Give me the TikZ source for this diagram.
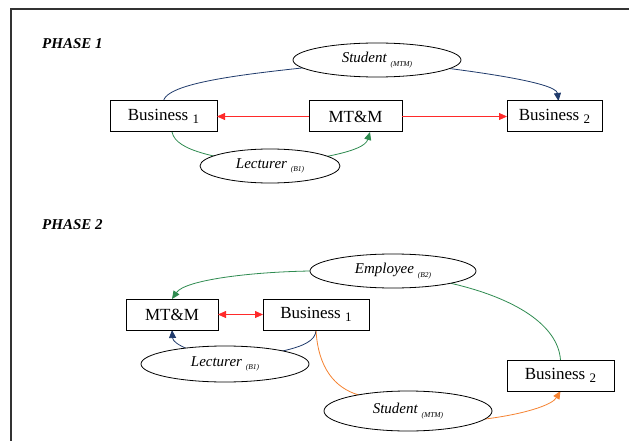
\documentclass[tikz,border=0pt]{standalone}
\usepackage{fontspec}
\setmainfont{Liberation Serif}
\usetikzlibrary{arrows.meta,shapes.geometric,backgrounds}

\definecolor{linkblue}{HTML}{1F3A6B}
\definecolor{linkgreen}{HTML}{2E8B50}
\definecolor{linkred}{HTML}{FF2A2A}
\definecolor{linkorange}{HTML}{F58231}
\definecolor{framegray}{HTML}{333333}

% lowered index digit in the box labels
\newcommand\idx[1]{\raisebox{-2.5pt}{\fontsize{13}{13}\selectfont #1}}
% small lowered tag after a role name
\newcommand\rolenote[1]{\raisebox{-3.5pt}{\fontsize{7.5}{8}\selectfont\itshape #1}}

\begin{document}
\begin{tikzpicture}[x=1pt,y=-1pt,
  box/.style={draw=black, line width=1pt, fill=white, minimum height=31pt,
    inner sep=0pt, outer sep=0pt, font=\fontsize{17}{19}\selectfont},
  oval/.style={ellipse, draw=black, line width=0.8pt, fill=white,
    inner sep=0pt, outer sep=0pt, font=\fontsize{15}{17}\selectfont\itshape},
  phase/.style={anchor=base west, inner sep=0pt,
    font=\fontsize{15}{17}\selectfont\bfseries\itshape},
  link/.style={line width=0.8pt},
  tip/.style={-{Triangle[length=8pt,width=7pt]}},
  tips/.style={{Triangle[length=8pt,width=7pt]}-{Triangle[length=8pt,width=7pt]}},
]
\useasboundingbox (0,0) rectangle (629,441);

% outer frame (top and left edges)
\draw[framegray, line width=1.4pt] (629,9) -- (11,9) -- (11,441);

% ---------------- Phase 1 ----------------
\node[phase] (ph1) at (42,49) {PHASE 1};

\node[box, minimum width=107pt] (p1b1)  at (163.5,116.5) {Business \idx{1}};
\node[box, minimum width=93pt]  (p1mtm) at (355.5,116.5) {MT\&M\hspace{8pt}};
\node[box, minimum width=95pt]  (p1b2)  at (554.5,116.5) {Business \idx{2}};

\node[oval, minimum width=168pt, minimum height=34pt] (p1stu) at (377,60)
  {Student \rolenote{(MTM)}};
\node[oval, minimum width=140pt, minimum height=34pt] (p1lec) at (270,166)
  {Lecturer \rolenote{(B1)}};

\draw[link, linkred, tip] (p1mtm.west) -- (p1b1.east);
\draw[link, linkred, tip] (p1mtm.east) -- (p1b2.west);

\begin{pgfonlayer}{background}
  \draw[link, linkblue, tip] (p1b1.north)
    .. controls (168,78) and (290,70) .. (p1stu.center)
    .. controls (470,70) and (556,82) .. ([xshift=4pt]p1b2.north);
  \draw[link, linkgreen, tip] ([xshift=8.5pt]p1b1.south)
    .. controls (176,152) and (220,158) .. (p1lec.center)
    .. controls (320,158) and (364,152) .. ([xshift=14.5pt]p1mtm.south);
\end{pgfonlayer}

% ---------------- Phase 2 ----------------
\node[phase] (ph2) at (42,229) {PHASE 2};

\node[box, minimum width=92pt]  (p2mtm) at (172,314.5) {MT\&M\hspace{8pt}};
\node[box, minimum width=106pt] (p2b1)  at (316,314.5) {Business \idx{1}};
\node[box, minimum width=107pt] (p2b2)  at (560.5,375.5) {Business \idx{2}};

\node[oval, minimum width=166pt, minimum height=34pt] (p2emp) at (393,271)
  {Employee \rolenote{(B2)}};
\node[oval, minimum width=168pt, minimum height=36pt] (p2lec) at (225,364)
  {Lecturer \rolenote{(B1)}};
\node[oval, minimum width=168pt, minimum height=40pt] (p2stu) at (408,411)
  {Student \rolenote{(MTM)}};

\draw[link, linkred, tips] (p2mtm.east) -- (p2b1.west);

\begin{pgfonlayer}{background}
  \draw[link, linkgreen, tip] (p2emp.west)
    .. controls (250,272) and (185,280) .. (p2mtm.north);
  \draw[link, linkgreen] (p2emp.-12)
    .. controls (515,298) and (558,325) .. (p2b2.north);
  \draw[link, linkblue, tip] (p2b1.south)
    .. controls (316,352) and (260,352) .. (p2lec.center)
    .. controls (195,352) and (173,345) .. (p2mtm.south);
  \draw[link, linkorange] (p2b1.south)
    .. controls (318,368) and (335,388) .. (p2stu.162);
  \draw[link, linkorange, tip] (p2stu.-6)
    .. controls (525,414) and (552,405) .. (p2b2.south);
\end{pgfonlayer}
\end{tikzpicture}
\end{document}
